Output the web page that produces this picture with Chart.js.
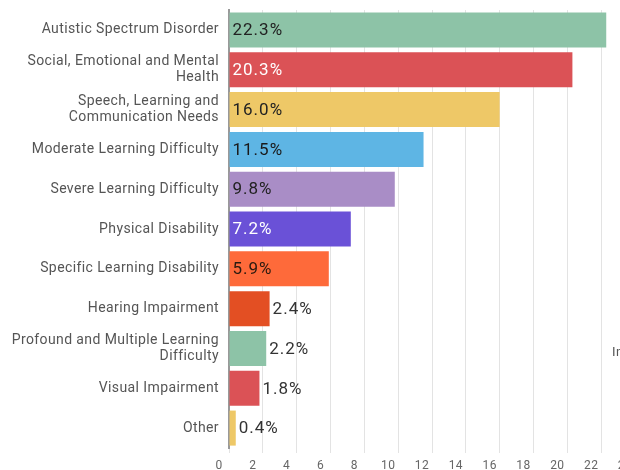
<!DOCTYPE html>
<html>
<head>
<meta charset="utf-8">
<script src="https://cdn.jsdelivr.net/npm/chart.js@4"></script>
<style>
  html, body { margin: 0; padding: 0; background: #fff; overflow: hidden; }
  #wrap { width: 660px; height: 470px; }
</style>
</head>
<body>
<div id="wrap"><canvas id="needsChart" width="660" height="470"></canvas></div>
<script>
const categories = [
  'Autistic Spectrum Disorder',
  ['Social, Emotional and Mental', 'Health'],
  ['Speech, Learning and', 'Communication Needs'],
  'Moderate Learning Difficulty',
  'Severe Learning Difficulty',
  'Physical Disability',
  'Specific Learning Disability',
  'Hearing Impairment',
  ['Profound and Multiple Learning', 'Difficulty'],
  'Visual Impairment',
  'Other'
];
const percentages = [22.3, 20.3, 16.0, 11.5, 9.8, 7.2, 5.9, 2.4, 2.2, 1.8, 0.4];
const barColors = ['#8dc3a7', '#db5256', '#eec867', '#5eb5e4', '#a98dc6', '#6a51d7',
                   '#fe6a3a', '#e34f23', '#8dc3a7', '#db5256', '#eec867'];
const labelColors = ['#222', '#fff', '#222', '#1a1a1a', '#222', '#fff',
                     '#2a1a10', '#333', '#333', '#333', '#333'];
const xTicks = [0, 2, 4, 6, 8, 10, 12, 14, 16, 18, 20, 22, 24];

const valueLabels = {
  id: 'valueLabels',
  // the original text is a bit wider than plain Roboto
  beforeUpdate(chart) { chart.ctx.letterSpacing = '0.4px'; },
  beforeDraw(chart) { chart.ctx.letterSpacing = '0.4px'; },
  afterDatasetsDraw(chart) {
    const ctx = chart.ctx;
    const meta = chart.getDatasetMeta(0);
    ctx.save();
    ctx.font = '17px Roboto';
    ctx.letterSpacing = '1px';
    ctx.textBaseline = 'middle';
    ctx.textAlign = 'left';
    meta.data.forEach((bar, i) => {
      const txt = percentages[i].toFixed(1) + '%';
      const w = ctx.measureText(txt).width;
      const inside = (bar.x - bar.base) > w + 8;
      ctx.fillStyle = inside ? labelColors[i] : '#333';
      ctx.fillText(txt, inside ? bar.base + 3 : bar.x + 3, bar.y + 1);
    });
    // cut-off text at the right edge of the original
    ctx.font = '13px Roboto';
    ctx.letterSpacing = '0.5px';
    ctx.fillStyle = '#555';
    ctx.fillText('In', 612, 353);
    ctx.restore();
  }
};

new Chart(document.getElementById('needsChart'), {
  type: 'bar',
  data: {
    labels: categories,
    datasets: [{
      data: percentages,
      backgroundColor: barColors,
      borderWidth: 0,
      barPercentage: 0.88,
      categoryPercentage: 1
    }]
  },
  options: {
    indexAxis: 'y',
    responsive: false,
    animation: false,
    layout: { padding: { top: 0, right: 25, bottom: 0, left: 0 } },
    plugins: { legend: { display: false }, tooltip: { enabled: false } },
    scales: {
      x: {
        min: 0,
        max: 24,
        afterBuildTicks: s => { s.ticks = xTicks.map(v => ({ value: v })); },
        afterFit: s => { s.height = 22; },
        grid: { color: '#e3e3e3', lineWidth: 1, tickLength: 5, drawTicks: true },
        border: { display: false },
        ticks: { color: '#666', font: { family: 'Roboto', size: 12 }, labelOffset: -10, padding: 6 }
      },
      y: {
        afterFit: s => { s.width = 229; },
        grid: { display: false },
        border: { display: true, color: '#999', width: 2 },
        ticks: { color: '#555', font: { family: 'Roboto', size: 14, lineHeight: 1.15 }, padding: 2 }
      }
    }
  },
  plugins: [valueLabels]
});
</script>
</body>
</html>
